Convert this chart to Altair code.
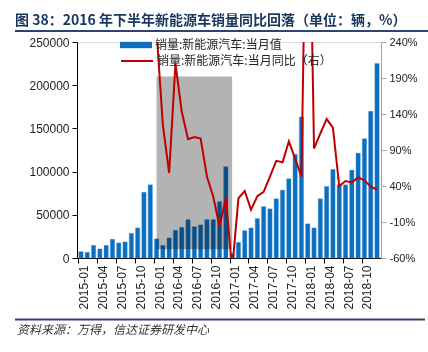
import altair as alt
import pandas as pd

# ---------------- data ----------------
months = [f"{y}-{m:02d}" for y in range(2015, 2019) for m in range(1, 13)]

sales = [
    7300, 6600, 14600, 10500, 14600, 21600, 17400, 18600, 28500, 34800, 76100, 84700,
    22200, 14600, 23200, 32000, 35500, 44400, 36300, 38300, 44400, 44400, 65300, 105600,
    5300, 18100, 31700, 34800, 45600, 59500, 56900, 68500, 78500, 91700, 119900, 163200,
    39500, 34800, 68500, 82800, 102500, 84700, 84700, 101700, 121400, 138100, 169800, 225200,
]

yoy_months = months[12:]
yoy = [
    255, 125, 58, 210, 143, 105, 108, 106, 53, 25, -16, 23,
    -76, 23, 33, 7, 26, 32, 53, 75, 73, 102, 78, 53,
    600, 92, 113, 133, 121, 40, 47, 45, 52, 48, 39, 35,
]

x_tick_labels = months[::3]
left_ticks = [0, 50000, 100000, 150000, 200000, 250000]
right_ticks = [-60, -10, 40, 90, 140, 190, 240]

shade_start, shade_end = ["2016-01"], ["2017-01"]
shade_lo, shade_hi = [10000], [210000]

bar_name = "销量:新能源汽车:当月值"
line_name = "销量:新能源汽车:当月同比（右）"
title_text = "图 38：2016 年下半年新能源车销量同比回落（单位：辆，%）"
source_text = "资料来源：万得，信达证券研发中心"

# ---------------- tables ----------------
df_bar = pd.DataFrame({"month": months, "sales": sales, "series": bar_name})
df_line = pd.DataFrame({"month": yoy_months, "yoy": yoy, "series": line_name})
df_shade = pd.DataFrame({"gs": shade_start, "ge": shade_end, "lo": shade_lo, "hi": shade_hi})

W, H = 304, 216
NUM_FONT = "Liberation Sans"
CJK_FONT = "Noto Sans CJK SC"

x_axis = alt.Axis(
    values=x_tick_labels, labelAngle=-90, bandPosition=0, labelOffset=3,
    domainColor="#000000", tickColor="#000000", tickSize=5, labelPadding=2,
    labelFont=NUM_FONT, labelFontSize=12, labelColor="#222222", grid=False,
)
x_scale = alt.Scale(domain=months, paddingInner=0.32, paddingOuter=0.29)

left_scale = alt.Scale(domain=[0, 250000], nice=False)
left_axis = alt.Axis(
    values=left_ticks, format="d", tickSize=5, domainColor="#000000",
    tickColor="#000000", labelFont=NUM_FONT, labelFontSize=12,
    labelColor="#222222", labelPadding=3, grid=False,
)

bars = alt.Chart(df_bar).mark_bar(stroke="#4a90d0", strokeWidth=0.4).encode(
    x=alt.X("month:O", scale=x_scale, axis=x_axis, title=None),
    y=alt.Y("sales:Q", scale=left_scale, axis=left_axis, title=None),
    fill=alt.Fill(
        "series:N", scale=alt.Scale(range=["#0b6fc0"]),
        legend=alt.Legend(
            orient="none", legendX=43, legendY=-13, title=None,
            symbolType="M-1,-0.2H1V0.2H-1Z", symbolSize=1024,
            symbolStrokeWidth=0, labelFont=CJK_FONT, labelFontSize=12,
            labelColor="#222222", labelOffset=3, padding=0, labelLimit=400,
        ),
    ),
)

shade = alt.Chart(df_shade).mark_rect(color="#b3b3b3", blend="multiply").encode(
    x=alt.X("gs:O", scale=x_scale, axis=x_axis, title=None, bandPosition=0.5),
    x2=alt.X2("ge", bandPosition=0.5),
    y=alt.Y("lo:Q", scale=left_scale, axis=left_axis, title=None),
    y2="hi",
)

left = alt.layer(bars, shade)

line = alt.Chart(df_line).mark_line(strokeWidth=2, clip=True).encode(
    x=alt.X("month:O", scale=x_scale, axis=x_axis, title=None),
    y=alt.Y(
        "yoy:Q", scale=alt.Scale(domain=[-60, 240], nice=False),
        axis=alt.Axis(
            orient="right", values=right_ticks, labelExpr="datum.value + '%'",
            domainColor="#a6a6a6", tickColor="#a6a6a6", tickSize=5,
            labelFont=NUM_FONT, labelFontSize=11, labelColor="#222222",
            labelPadding=3, grid=False,
        ),
        title=None,
    ),
    stroke=alt.Stroke(
        "series:N", scale=alt.Scale(range=["#c00000"]),
        legend=alt.Legend(
            orient="none", legendX=43, legendY=2, title=None,
            symbolType="M-1,0H1", symbolSize=1024, symbolStrokeWidth=2,
            labelFont=CJK_FONT, labelFontSize=12, labelColor="#222222",
            labelOffset=3, padding=0, labelLimit=400,
        ),
    ),
)

one = pd.DataFrame({"t": [0]})
title_mark = alt.Chart(pd.DataFrame({"t": [title_text]})).mark_text(
    align="left", baseline="alphabetic", font=CJK_FONT, fontSize=14,
    fontWeight="bold", color="#17375e",
).encode(text="t:N", x=alt.value(-62), y=alt.value(-17))

top_rule = alt.Chart(one).mark_rule(color="#2e4472", strokeWidth=2).encode(
    x=alt.value(-62), x2=alt.value(351), y=alt.value(-11)
)
bottom_rule = alt.Chart(one).mark_rule(color="#2e4472", strokeWidth=2).encode(
    x=alt.value(-62), x2=alt.value(348), y=alt.value(277.5)
)
source_mark = alt.Chart(pd.DataFrame({"t": [source_text]})).mark_text(
    align="left", baseline="middle", font=CJK_FONT, fontSize=12,
    fontStyle="italic", color="#333333",
).encode(text="t:N", x=alt.value(-60), y=alt.value(288))

chart = alt.layer(
    left, line, title_mark, top_rule, bottom_rule, source_mark
).resolve_scale(y="independent", fill="independent", stroke="independent").properties(
    width=W, height=H,
    autosize=alt.AutoSizeParams(type="none"),
    padding={"left": 77, "top": 42, "right": 47, "bottom": 94},
).configure_view(stroke=None).configure(background="white")

chart.save("out.html", embed_options={"renderer": "svg", "actions": False})
